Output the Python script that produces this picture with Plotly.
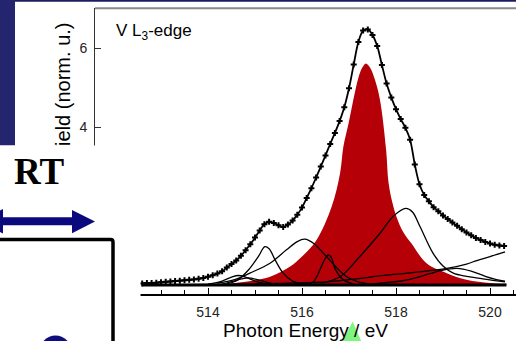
import plotly.graph_objects as go

# ---------------- data ----------------
energy = [512.6, 512.7, 512.8, 512.9, 513.0, 513.1, 513.2, 513.3, 513.4, 513.5,
          513.6, 513.7, 513.8, 513.9, 514.0, 514.1, 514.2, 514.3, 514.4, 514.5,
          514.6, 514.7, 514.8, 514.9, 515.0, 515.1, 515.2, 515.3, 515.4, 515.5,
          515.6, 515.7, 515.8, 515.9, 516.0, 516.1, 516.2, 516.3, 516.4, 516.5,
          516.6, 516.7, 516.8, 516.9, 517.0, 517.1, 517.2, 517.3, 517.4, 517.5,
          517.6, 517.7, 517.8, 517.9, 518.0, 518.1, 518.2, 518.3, 518.4, 518.5,
          518.6, 518.7, 518.8, 518.9, 519.0, 519.1, 519.2, 519.3, 519.4, 519.5,
          519.6, 519.7, 519.8, 519.9, 520.0, 520.1, 520.2, 520.3]
yield_exp = [0.04, 0.05, 0.05, 0.06, 0.07, 0.08, 0.09, 0.10, 0.11, 0.12,
             0.13, 0.14, 0.16, 0.18, 0.21, 0.25, 0.29, 0.35, 0.44, 0.53,
             0.62, 0.74, 0.88, 1.03, 1.20, 1.38, 1.54, 1.60, 1.57, 1.51,
             1.47, 1.53, 1.63, 1.78, 1.96, 2.20, 2.45, 2.72, 3.00, 3.28,
             3.57, 3.85, 4.15, 4.50, 4.98, 5.58, 6.15, 6.44, 6.47, 6.33,
             6.05, 5.57, 5.10, 4.75, 4.45, 4.20, 3.98, 3.68, 3.05, 2.55,
             2.28, 2.12, 1.97, 1.87, 1.76, 1.67, 1.58, 1.50, 1.41, 1.33,
             1.26, 1.19, 1.14, 1.09, 1.05, 1.02, 1.00, 0.99]

main_x = [514.5, 515.0, 515.32, 515.74, 516.0, 516.31, 516.63, 516.81, 516.88, 516.99,
          517.09, 517.2, 517.28, 517.36, 517.45, 517.55, 517.66, 517.79, 517.84, 517.92,
          518.01, 518.15, 518.33, 518.65, 519.08, 519.5, 520.0, 520.35]
main_y = [0.04, 0.12, 0.21, 0.46, 0.72, 1.14, 1.98, 2.83, 3.5, 4.09,
          4.68, 5.25, 5.5, 5.61, 5.5, 5.2, 4.68, 3.42, 2.6, 2.1,
          1.73, 1.35, 1.05, 0.55, 0.30, 0.13, 0.05, 0.03]

c1_x = [514.4, 514.6, 514.86, 515.07, 515.21, 515.3, 515.43, 515.6, 515.8, 516.1]
c1_y = [0.03, 0.10, 0.38, 0.72, 0.97, 0.92, 0.63, 0.30, 0.10, 0.02]

c2_x = [514.2, 514.6, 514.89, 515.32, 515.67, 515.9, 516.06, 516.25, 516.52, 516.75, 516.95, 517.2, 517.5]
c2_y = [0.05, 0.15, 0.30, 0.55, 0.89, 1.10, 1.16, 1.05, 0.72, 0.42, 0.21, 0.08, 0.02]

c3_x = [516.1, 516.24, 516.38, 516.47, 516.56, 516.63, 516.7, 516.88, 517.1]
c3_y = [0.02, 0.08, 0.38, 0.62, 0.76, 0.68, 0.42, 0.13, 0.03]

c4_x = [516.4, 516.81, 517.23, 517.66, 517.95, 518.21, 518.35, 518.51, 518.79, 519.0, 519.22, 519.5, 519.79, 520.1, 520.32]
c4_y = [0.05, 0.21, 0.72, 1.31, 1.75, 1.94, 1.85, 1.48, 0.80, 0.48, 0.30, 0.22, 0.17, 0.11, 0.08]

c5_x = [517.5, 518.2, 518.7, 519.0, 519.3, 519.6, 519.9, 520.1, 520.32]
c5_y = [0.03, 0.12, 0.28, 0.38, 0.42, 0.35, 0.22, 0.15, 0.10]

step_x = [513.0, 514.5, 515.5, 516.4, 517.1, 517.8, 518.5, 519.08, 519.5, 519.72, 520.0, 520.32]
step_y = [0.0, 0.02, 0.04, 0.07, 0.15, 0.25, 0.33, 0.42, 0.53, 0.62, 0.72, 0.84]

c7_x = [514.0, 514.3, 514.5, 514.65, 514.8, 515.0, 515.3]
c7_y = [0.02, 0.10, 0.20, 0.24, 0.20, 0.10, 0.02]

c8_x = [514.3, 514.6, 514.85, 515.1, 515.4]
c8_y = [0.02, 0.12, 0.18, 0.12, 0.03]

base_x = [512.6, 520.35]
base_y = [0.0, 0.0]

x_ticks = [514, 516, 518, 520]
y_ticks = [0, 2, 4, 6]

# ---------------- figure ----------------
W, H = 516, 341
L, R, T, B = 95, 0, 8, 47
PW, PH = W - L - R, H - T - B

def xp(px):
    return (px - L) / PW

def yp(py):
    return (H - B - py) / PH

fig = go.Figure()
fig.add_trace(go.Scatter(x=main_x, y=main_y, mode="lines", line=dict(width=0, shape="spline"),
                         fill="tozeroy", fillcolor="#B50008", hoverinfo="skip"))
fig.add_trace(go.Scatter(x=base_x, y=base_y, mode="lines", line=dict(color="black", width=3)))
for cx, cy in [(c1_x, c1_y), (c2_x, c2_y), (c3_x, c3_y), (c4_x, c4_y), (c5_x, c5_y),
               (step_x, step_y), (c7_x, c7_y), (c8_x, c8_y)]:
    fig.add_trace(go.Scatter(x=cx, y=cy, mode="lines",
                             line=dict(color="black", width=1.3, shape="spline")))
fig.add_trace(go.Scatter(x=energy, y=yield_exp, mode="lines+markers",
                         line=dict(color="black", width=1.8, shape="spline"),
                         marker=dict(symbol="cross", size=5, color="black")))

font = "Arial, Liberation Sans, sans-serif"
navy = "#25256f"

shapes = []
# top navy strip and left navy panel
shapes.append(dict(type="rect", xref="paper", yref="paper", x0=xp(0), x1=xp(516), y0=yp(0), y1=yp(1.8),
                   fillcolor="#1c1c5e", line=dict(width=0), layer="above"))
shapes.append(dict(type="rect", xref="paper", yref="paper", x0=xp(0), x1=xp(15), y0=yp(0), y1=yp(145.5),
                   fillcolor=navy, line=dict(width=0), layer="above"))
# gray top frame of chart
shapes.append(dict(type="line", xref="paper", yref="paper", x0=xp(95), x1=xp(516), y0=yp(8.3), y1=yp(8.3),
                   line=dict(color="#8a8a8a", width=2), layer="above"))
# white slide area covering lower-left part of chart
shapes.append(dict(type="rect", xref="paper", yref="paper", x0=xp(-2), x1=xp(140.5), y0=yp(145.5), y1=yp(345),
                   fillcolor="white", line=dict(width=0), layer="above"))
# black box outline
path = "M {} {} L {} {} Q {} {} {} {} L {} {}".format(
    xp(-5), yp(239.5), xp(110.5), yp(239.5), xp(113), yp(239.5), xp(113), yp(242), xp(113), yp(350))
shapes.append(dict(type="path", xref="paper", yref="paper", path=path,
                   line=dict(color="black", width=3.5), layer="above"))
# blue double arrow
arrow = ("M {} {} L {} {} L {} {} L {} {} L {} {} L {} {} L {} {} L {} {} L {} {} L {} {} Z").format(
    xp(-20), yp(221.3),
    xp(3), yp(209), xp(3), yp(217.3),
    xp(72), yp(217.3), xp(72), yp(210), xp(95), yp(221.5), xp(72), yp(233.3), xp(72), yp(225.3),
    xp(3), yp(225.3), xp(3), yp(233.5))
shapes.append(dict(type="path", xref="paper", yref="paper", path=arrow,
                   fillcolor="#0a0a7e", line=dict(width=0), layer="above"))
# navy circle at bottom
shapes.append(dict(type="circle", xref="paper", yref="paper", x0=xp(39.5), x1=xp(71.5), y0=yp(335.5), y1=yp(367.5),
                   fillcolor="#0d0d80", line=dict(width=0), layer="above"))
# green triangle
tri = "M {} {} L {} {} L {} {} Z".format(xp(352.7), yp(321.5), xp(341.5), yp(343), xp(362), yp(343))
shapes.append(dict(type="path", xref="paper", yref="paper", path=tri,
                   fillcolor="#7ff47f", line=dict(width=0), layer="above"))

annotations = [
    dict(text="V L<sub>3</sub>-edge", xref="paper", yref="paper", x=xp(114), y=yp(19),
         xanchor="left", yanchor="top", showarrow=False, font=dict(family=font, size=17, color="black")),
    dict(text="Yield (norm. u.)", xref="paper", yref="paper", x=xp(62.5), y=yp(91), textangle=-90,
         xanchor="center", yanchor="middle", showarrow=False, font=dict(family=font, size=20, color="black")),
    # white patch: the slide area hides the lower end of the axis title
    dict(text="&nbsp;", xref="paper", yref="paper", x=xp(40), y=yp(145.5),
         xanchor="left", yanchor="top", showarrow=False, width=50, height=20,
         bgcolor="white", borderpad=0, borderwidth=0, font=dict(family=font, size=8, color="white")),
    dict(text="<b>RT</b>", xref="paper", yref="paper", x=xp(39), y=yp(171.5),
         xanchor="center", yanchor="middle", showarrow=False,
         font=dict(family="Liberation Serif, Times New Roman, serif", size=37, color="black")),
]

fig.update_layout(
    width=W, height=H, margin=dict(l=L, r=R, t=T, b=B, pad=0),
    paper_bgcolor="white", plot_bgcolor="white", showlegend=False,
    shapes=shapes, annotations=annotations,
    font=dict(family=font, color="black"),
)
x0 = 514 - (208 - L) / 47.0
x1 = 514 + (W - 208) / 47.0
fig.update_xaxes(range=[x0, x1], tickvals=x_ticks, ticks="inside", ticklen=6, tickcolor="black",
                 showline=True, linecolor="black", linewidth=1.5, showgrid=False, zeroline=False,
                 tickfont=dict(family=font, size=14, color="#222"), ticklabelstandoff=4,
                 minor=dict(tick0=514, dtick=0.5, ticks="inside", ticklen=4, tickcolor="black"),
                 title=dict(text="Photon Energy / eV", font=dict(family=font, size=19, color="black"), standoff=2))
y0 = (285 - 294) / 39.5
y1 = (285 - 8) / 39.5
fig.update_yaxes(range=[y0, y1], tickvals=y_ticks, ticks="inside", ticklen=6, tickcolor="#333",
                 showline=True, linecolor="#333", linewidth=1, showgrid=False, zeroline=False,
                 tickfont=dict(family=font, size=14, color="#222"), ticklabelstandoff=4)

fig.write_html("out.html")
